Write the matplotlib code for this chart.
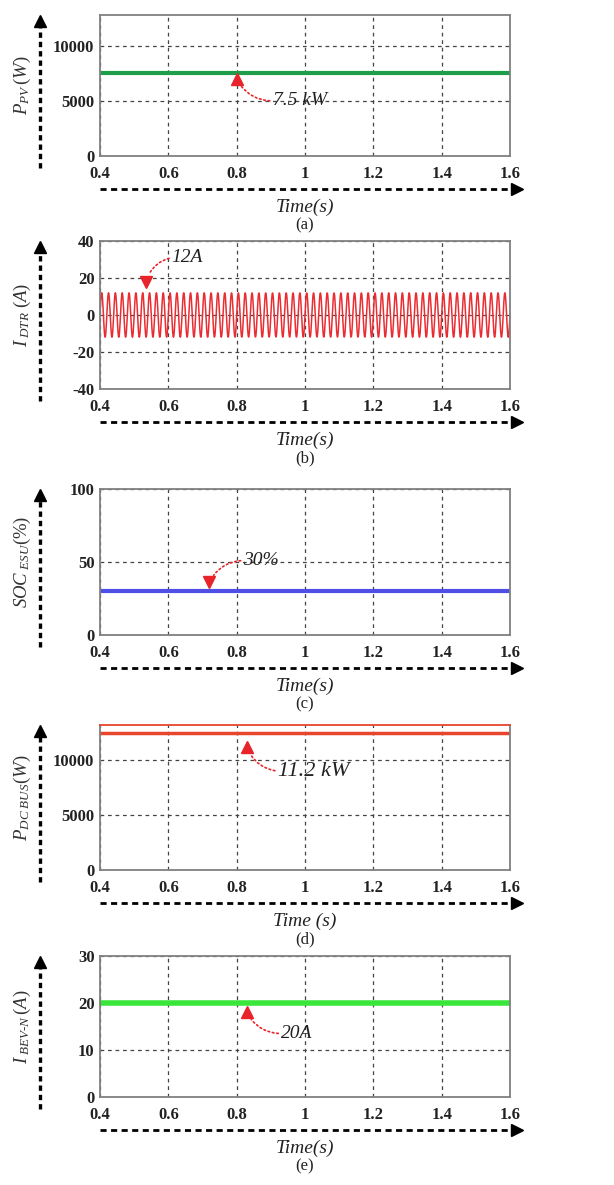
import numpy as np
import matplotlib
matplotlib.use("Agg")
import matplotlib.pyplot as plt
from matplotlib.lines import Line2D

plt.rcParams['font.family'] = ['Liberation Serif', 'DejaVu Serif']
plt.rcParams['mathtext.fontset'] = 'custom'
plt.rcParams['mathtext.rm'] = 'Liberation Serif'
plt.rcParams['mathtext.it'] = 'Liberation Serif:italic'

# data
t_start, t_end = 0.4, 1.6
x_ticks = [0.4, 0.6, 0.8, 1.0, 1.2, 1.4, 1.6]
x_tick_labels = ['0.4', '0.6', '0.8', '1', '1.2', '1.4', '1.6']

p_pv = 7500                 # W, constant
i_dtr_amp = 12              # A, peak of the DTR current
i_dtr_freq = 50             # Hz
soc_esu = 30                # %
p_dc_bus = 12500            # W, constant (line drawn near top)
i_bev = 20                  # A, constant

panel_ylims = [(0, 12800), (-40, 40), (0, 100), (0, 13200), (0, 30)]
panel_yticks = [[0, 5000, 10000], [-40, -20, 0, 20, 40], [0, 50, 100],
                [0, 5000, 10000], [0, 10, 20, 30]]
panel_ylabels = [r'$P_{PV}\,(W)$', r'$I_{\ DTR}\ (A)$', r'$SOC_{\ ESU}(\%)$',
                 r'$P_{DC\ BUS}(W)$', r'$I_{\ BEV\text{-}N}\,(A)$']
panel_xlabels = ['Time(s)', 'Time(s)', 'Time(s)', 'Time (s)', 'Time(s)']
panel_tags = ['(a)', '(b)', '(c)', '(d)', '(e)']

# annotation: marker point, text position, text, marker direction
notes = [((0.80, 7000), (0.905, 5000), '7.5 kW', '^'),
         ((0.535, 18), (0.61, 31), '12A', 'v'),
         ((0.72, 36), (0.82, 51), '30%', 'v'),
         ((0.83, 11200), (0.92, 9000), '11.2 kW', '^'),
         ((0.83, 18), (0.93, 13.5), '20A', '^')]

W, H = 614, 1185
fig = plt.figure(figsize=(W / 100, H / 100), dpi=100)

# axes pixel boxes (top, bottom) measured from the top of the image
boxes = [(15, 156), (241, 389), (489, 635), (725, 870), (956, 1097)]
left, right = 100, 510

t_line = np.array([t_start, t_end])
t_wave = np.linspace(t_start, t_end, 1200)

axes = []
for k, (top, bot) in enumerate(boxes):
    ax = fig.add_axes([left / W, 1 - bot / H, (right - left) / W, (bot - top) / H])
    axes.append(ax)

axes[0].plot(t_line, [p_pv, p_pv], color='#1f9e4a', lw=3)
axes[1].plot(t_wave, i_dtr_amp * np.sin(2 * np.pi * i_dtr_freq * t_wave),
             color='#ea2d33', lw=1.1)
axes[2].plot(t_line, [soc_esu, soc_esu], color='#4f4fe6', lw=3)
axes[3].plot(t_line, [p_dc_bus, p_dc_bus], color='#e8452c', lw=2.5)
axes[4].plot(t_line, [i_bev, i_bev], color='#3ae63a', lw=4)

for k, ax in enumerate(axes):
    top, bot = boxes[k]
    ax.set_xlim(t_start, t_end)
    ax.set_ylim(*panel_ylims[k])
    ax.set_xticks(x_ticks)
    ax.set_xticklabels(x_tick_labels)
    ax.set_yticks(panel_yticks[k])
    ax.set_yticklabels([str(v) for v in panel_yticks[k]])
    ax.tick_params(length=0, labelsize=12)
    ax.tick_params(axis='x', pad=7)
    ax.tick_params(axis='y', pad=4)
    for lab in ax.get_xticklabels() + ax.get_yticklabels():
        lab.set_fontweight('bold')
        lab.set_color('#222222')
    ax.grid(True, ls=(0, (3, 3)), color='#444444', lw=0.9)
    for s in ax.spines.values():
        s.set_color('#808080')
        s.set_linewidth(1.3)
    if k == 3:
        ax.spines['top'].set_color('#e8452c')

    # dashed x arrow under the axis
    ya = 1 - (bot + 33) / H
    fig.add_artist(Line2D([left / W, 512 / W], [ya, ya], color='black',
                          lw=2, ls=(0, (2.2, 1.6))))
    fig.add_artist(Line2D([517 / W], [ya], marker='>', ms=9, color='black'))
    # dashed y arrow
    xa = 40 / W
    fig.add_artist(Line2D([xa, xa], [1 - (bot + 12) / H, 1 - (top + 8) / H],
                          color='black', lw=2.4, ls=(0, (1.6, 1.2))))
    fig.add_artist(Line2D([xa], [1 - (top + 6) / H], marker='^', ms=9, color='black'))
    fig.text(22 / W, 1 - ((top + bot) / 2) / H, panel_ylabels[k], rotation=90,
             ha='center', va='center', fontsize=13.5, color='#333333')

    # x label and panel tag
    fig.text((left + right) / 2 / W, 1 - (bot + 51) / H, panel_xlabels[k],
             ha='center', va='center', fontsize=14, style='italic', color='#222222')
    fig.text((left + right) / 2 / W, 1 - (bot + 69) / H, panel_tags[k],
             ha='center', va='center', fontsize=12, color='#222222')

    (mx, my), (tx, ty), txt, mk = notes[k]
    ax.plot([mx], [my], marker=mk, ms=9, color='#e8232a', clip_on=False)
    ax.annotate('', xy=(mx, my), xytext=(tx, ty),
                arrowprops=dict(arrowstyle='-', ls=':', color='#e8232a', lw=1.2,
                                connectionstyle='arc3,rad=-0.3' if mk == '^' else 'arc3,rad=0.3',
                                shrinkA=2, shrinkB=6))
    ax.text(tx, ty, txt, ha='left', va='center', fontsize=16 if k == 3 else 14,
            style='italic', color='#222222')

fig.savefig('out.png', dpi=100)
